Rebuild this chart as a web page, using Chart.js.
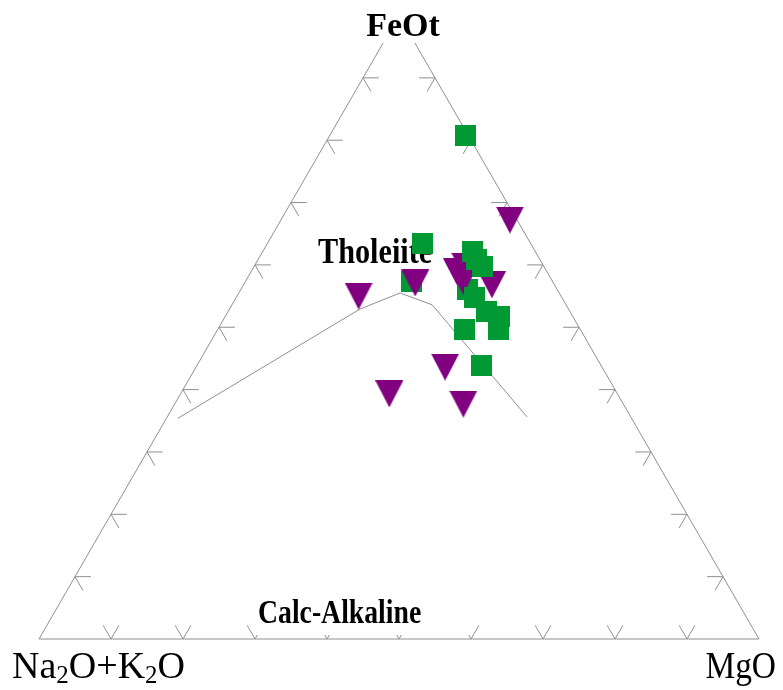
<!DOCTYPE html>
<html>
<head>
<meta charset="utf-8">
<script src="https://cdn.jsdelivr.net/npm/chart.js@4/dist/chart.umd.min.js"></script>
<style>
  html, body { margin: 0; padding: 0; background: #ffffff; }
  #wrap { width: 783px; height: 690px; position: relative; }
</style>
</head>
<body>
<div id="wrap"><canvas id="afm"></canvas></div>
<script>
// AFM ternary diagram: A = Na2O+K2O, F = FeOt, M = MgO (normalised wt.%)

// Group 1 (green squares)
const squareFeOt = [80.8, 63.4, 62.1, 60.8, 59.7, 57.4, 56.0, 54.7, 52.6, 51.8, 49.7, 49.6, 43.8];
const squareMgO  = [18.9, 21.5, 29.1, 30.4, 31.7, 23.1, 31.5, 33.1, 35.9, 38.0, 39.0, 34.3, 39.6];
const squareAlk  = [ 0.3, 15.1,  8.8,  8.8,  8.6, 19.5, 12.5, 12.2, 11.5, 10.2, 11.3, 16.1, 16.6];
// group-1 samples that sit underneath the group-2 symbols
const squareUnderneath = [5, 6];

// Group 2 (purple triangles)
const triFeOt = [67.2, 57.1, 55.0, 59.8, 58.9, 57.4, 56.8, 43.6, 39.3, 37.1];
const triMgO  = [31.8, 23.7, 16.9, 29.3, 28.6, 30.2, 34.5, 34.6, 29.0, 39.5];
const triAlk  = [ 1.0, 19.2, 28.1, 10.9, 12.5, 12.4,  8.7, 21.8, 31.7, 21.9];

// Tholeiitic / calc-alkaline divide
const divideFeOt = [35.4, 52.9, 55.5, 53.6, 35.6];
const divideMgO  = [ 1.6, 18.1, 22.4, 27.8, 50.0];
const divideAlk  = [63.0, 29.0, 22.1, 18.6, 14.4];

// Tick positions along each side (percent)
const tickSteps = [10, 20, 30, 40, 50, 60, 70, 80, 90];

const cornerLabels = { alk: ['Na', '2', 'O+K', '2', 'O'], feo: 'FeOt', mgo: 'MgO' };
const fieldLabels = { thol: 'Tholeiite', calc: 'Calc-Alkaline' };

const H = Math.sqrt(3) / 2;
function toXY(a, f, m) {
  const s = a + f + m;
  const F = f / s, M = m / s;
  return { x: M + F / 2, y: F * H };
}
function series(A, F, M, keep) {
  const out = [];
  F.forEach((f, i) => { if (!keep || keep(i)) out.push(toXY(A[i], f, M[i])); });
  return out;
}

// marker images
function squareMarker(size, color) {
  const c = document.createElement('canvas');
  c.width = size; c.height = size;
  const g = c.getContext('2d');
  g.fillStyle = color;
  g.fillRect(0, 0, size, size);
  return c;
}
function downTriangleMarker(w, h, color) {
  const c = document.createElement('canvas');
  c.width = w; c.height = h;
  const g = c.getContext('2d');
  g.fillStyle = color;
  g.beginPath();
  g.moveTo(0, 0); g.lineTo(w, 0); g.lineTo(w / 2, h); g.closePath();
  g.fill();
  return c;
}

const GREEN = '#009933';
const PURPLE = '#800080';
const LINE = '#8f8f8f';
const squareImg = squareMarker(21, GREEN);
const triImg = downTriangleMarker(28, 27, PURPLE);

const ternaryFrame = {
  id: 'ternaryFrame',
  beforeDatasetsDraw(chart) {
    const { ctx } = chart;
    const sx = chart.scales.x, sy = chart.scales.y;
    const P = (a, f, m) => {
      const p = toXY(a, f, m);
      return [sx.getPixelForValue(p.x), sy.getPixelForValue(p.y)];
    };
    ctx.save();
    ctx.strokeStyle = LINE;
    ctx.lineWidth = 1;

    // triangle sides
    ctx.beginPath();
    ctx.moveTo(...P(100, 0, 0));
    ctx.lineTo(...P(0, 0, 100));
    ctx.lineTo(...P(0, 100, 0));
    ctx.closePath();
    ctx.stroke();

    // tick stubs, parallel to the two other sides
    const L = 2.2;
    ctx.beginPath();
    tickSteps.forEach(t => {
      // left side (M = 0)
      let o = P(100 - t, t, 0);
      ctx.moveTo(...o); ctx.lineTo(...P(100 - t - L, t, L));
      ctx.moveTo(...o); ctx.lineTo(...P(100 - t, t - L, L));
      // base (F = 0)
      o = P(100 - t, 0, t);
      ctx.moveTo(...o); ctx.lineTo(...P(100 - t - L, L, t));
      ctx.moveTo(...o); ctx.lineTo(...P(100 - t, L, t - L));
      // right side (A = 0)
      o = P(0, t, 100 - t);
      ctx.moveTo(...o); ctx.lineTo(...P(L, t, 100 - t - L));
      ctx.moveTo(...o); ctx.lineTo(...P(L, t - L, 100 - t));
    });
    ctx.stroke();

    const apex = P(0, 100, 0), left = P(100, 0, 0), right = P(0, 0, 100);

    // FeOt label box over the apex
    ctx.fillStyle = '#ffffff';
    ctx.fillRect(apex[0] - 40, apex[1] - 12, 86, 39.5);
    ctx.fillStyle = '#000000';
    ctx.textBaseline = 'alphabetic';
    ctx.font = 'bold 34px "Liberation Serif"';
    ctx.textAlign = 'center';
    ctx.fillText(cornerLabels.feo, apex[0] + 4, apex[1] + 20);

    // Na2O+K2O
    ctx.textAlign = 'left';
    let x = left[0] - 27;
    const base = left[1] + 39;
    cornerLabels.alk.forEach((s, i) => {
      const sub = i % 2 === 1;
      ctx.font = sub ? '25px "Liberation Serif"' : '38px "Liberation Serif"';
      ctx.fillText(s, x, base + (sub ? 5 : 0));
      x += ctx.measureText(s).width;
    });

    // MgO (slightly condensed)
    ctx.save();
    ctx.translate(right[0] + 17, right[1] + 39);
    ctx.scale(0.88, 1);
    ctx.font = '38px "Liberation Serif"';
    ctx.textAlign = 'right';
    ctx.fillText(cornerLabels.mgo, 0, 0);
    ctx.restore();

    // field names
    const drawField = (text, px, py, size, sxf) => {
      ctx.save();
      ctx.translate(px, py);
      ctx.scale(sxf, 1);
      ctx.font = 'bold ' + size + 'px "Liberation Serif"';
      ctx.textAlign = 'left';
      ctx.fillText(text, 0, 0);
      ctx.restore();
    };
    ctx.fillStyle = '#ffffff';
    ctx.fillRect(left[0] + 217, left[1] - 47, 214, 43);
    ctx.fillStyle = '#000000';
    drawField(fieldLabels.calc, left[0] + 219, left[1] - 16, 33, 0.84);
    drawField(fieldLabels.thol, left[0] + 279, left[1] - 376, 36, 0.84);

    ctx.restore();
  }
};

const below = i => squareUnderneath.includes(i);

new Chart(document.getElementById('afm'), {
  type: 'scatter',
  data: {
    datasets: [
      {
        label: 'Group 1',
        data: series(squareAlk, squareFeOt, squareMgO, i => !below(i)),
        pointStyle: squareImg,
        pointRadius: 11,
        pointHoverRadius: 11
      },
      {
        label: 'Group 2',
        data: series(triAlk, triFeOt, triMgO),
        pointStyle: triImg,
        pointRadius: 13,
        pointHoverRadius: 13
      },
      {
        label: 'Group 1 (lower layer)',
        data: series(squareAlk, squareFeOt, squareMgO, below),
        pointStyle: squareImg,
        pointRadius: 11,
        pointHoverRadius: 11
      },
      {
        label: 'Divide',
        data: series(divideAlk, divideFeOt, divideMgO),
        showLine: true,
        borderColor: LINE,
        borderWidth: 1,
        pointRadius: 0,
        pointHoverRadius: 0,
        fill: false
      }
    ]
  },
  options: {
    responsive: true,
    maintainAspectRatio: false,
    animation: false,
    clip: false,
    events: [],
    layout: { padding: { left: 39, right: 24, top: 15.5, bottom: 51 } },
    scales: {
      x: { type: 'linear', min: 0, max: 1, display: false },
      y: { type: 'linear', min: 0, max: H, display: false }
    },
    plugins: {
      legend: { display: false },
      tooltip: { enabled: false }
    }
  },
  plugins: [ternaryFrame]
});
</script>
</body>
</html>
